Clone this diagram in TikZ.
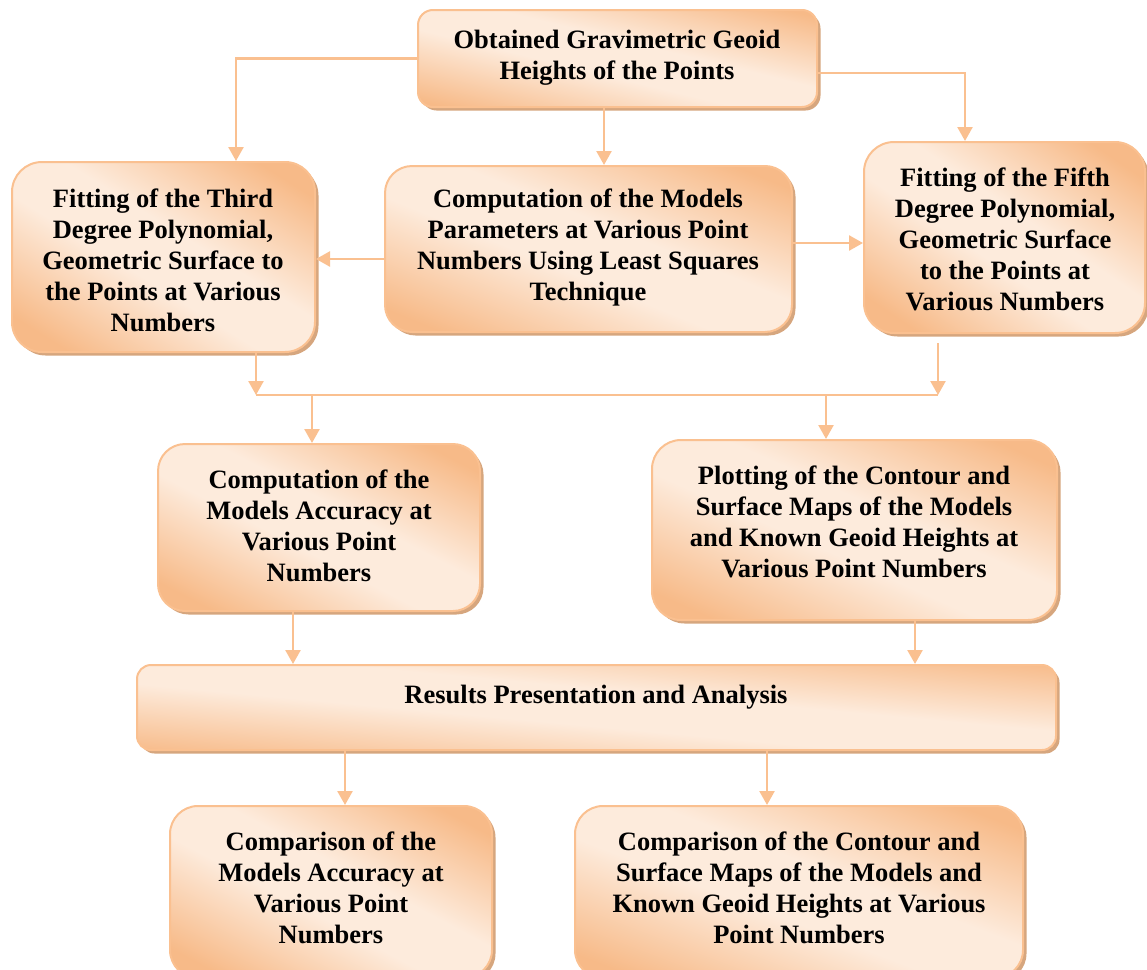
\documentclass[tikz,border=0pt]{standalone}
\usepackage{fontspec}
\setmainfont{Liberation Serif}
\usetikzlibrary{arrows.meta,shadows}
\definecolor{bord}{RGB}{250,192,144}
\definecolor{orD}{RGB}{247,186,136}
\definecolor{orL}{RGB}{253,235,220}
\definecolor{shad}{RGB}{214,166,126}
\pgfdeclareverticalshading{boxshade}{100bp}{color(0bp)=(orD); color(22bp)=(orD); color(44bp)=(orL); color(56bp)=(orL); color(78bp)=(orD); color(100bp)=(orD)}
\tikzset{
  box/.style 2 args={draw=bord, line width=2pt, rounded corners=#1,
    shading=boxshade, shading angle=#2,
    drop shadow={shadow xshift=3.5pt, shadow yshift=-3.5pt, fill=shad, opacity=1},
    inner sep=0pt},
  lbl/.style={align=center, font=\bfseries\fontsize{26.5}{31}\selectfont, inner sep=0pt},
  conn/.style={draw=bord, line width=2.5pt, -{Triangle[width=15pt,length=14pt]}},
  plain/.style={draw=bord, line width=2.5pt}
}
\begin{document}
\begin{tikzpicture}[x=1pt,y=1pt]
\useasboundingbox (0,0) rectangle (1147,-969);
% boxes
\node[box={15}{-13.7}, minimum width=399, minimum height=97] (b1) at (617.5,-58.5) {};
\node[box={30}{-32.1}, minimum width=303, minimum height=190] (b2) at (163.5,-257) {};
\node[box={27}{-22.2}, minimum width=407, minimum height=166] (b3) at (588.5,-249) {};
\node[box={30}{-34.2}, minimum width=281, minimum height=191] (b4) at (1004.5,-237.5) {};
\node[box={27}{-27.4}, minimum width=322, minimum height=167] (b5) at (319,-527.5) {};
\node[box={29}{-24.0}, minimum width=405, minimum height=180] (b6) at (854.5,-530) {};
\node[box={14}{-5.3}, minimum width=919, minimum height=85] (b7) at (596.5,-707.5) {};
\node[box={28}{-28.1}, minimum width=322, minimum height=172] (b8) at (331,-892) {};
\node[box={28}{-21.0}, minimum width=448, minimum height=172] (b9) at (799,-892) {};
% texts
\node[lbl] (t1) at (617,-57.5) {Obtained Gravimetric Geoid\\Heights of the Points};
\node[lbl] (t2) at (163,-260) {Fitting of the Third\\Degree Polynomial,\\Geometric Surface to\\the Points at Various\\Numbers};
\node[lbl] (t3) at (588,-247) {Computation of the Models\\Parameters at Various Point\\Numbers Using Least Squares\\Technique};
\node[lbl] (t4) at (1005,-239) {Fitting of the Fifth\\Degree Polynomial,\\Geometric Surface\\to the Points at\\Various Numbers};
\node[lbl] (t5) at (319,-526) {Computation of the\\Models Accuracy at\\Various Point\\Numbers};
\node[lbl] (t6) at (854,-522) {Plotting of the Contour and\\Surface Maps of the Models\\and Known Geoid Heights at\\Various Point Numbers};
\node[lbl] (t7) at (596,-697) {Results Presentation and Analysis};
\node[lbl] (t8) at (331,-888) {Comparison of the\\Models Accuracy at\\Various Point\\Numbers};
\node[lbl] (t9) at (799,-888) {Comparison of the Contour and\\Surface Maps of the Models and\\Known Geoid Heights at Various\\Point Numbers};
% junction points
\coordinate (jl) at (256,-395);
\coordinate (jr) at (938,-395);
\coordinate (jrs) at (938,-343);
% connectors
\draw[conn] (b1.west) -| ([xshift=72.5pt]b2.north);
\draw[conn] ([yshift=-14.5pt]b1.east) -| ([xshift=-39.5pt]b4.north);
\draw[conn] ([xshift=-13.5pt]b1.south) -- ([xshift=-13.5pt]b1.south |- b3.north);
\draw[conn] ([yshift=-10pt]b3.west) -- ([yshift=-10pt]b3.west -| b2.east);
\draw[conn] ([yshift=6pt]b3.east) -- ([yshift=6pt]b3.east -| b4.west);
\draw[conn] (b2.south -| jl) -- (jl);
\draw[conn] (jrs) -- (jr);
\draw[plain] (jl) -- (jr);
\draw[conn] (312,-395) -- (312,-395 |- b5.north);
\draw[conn] (826,-395) -- (826,-395 |- b6.north);
\draw[conn] ([xshift=-26pt]b5.south) -- ([xshift=-26pt]b5.south |- b7.north);
\draw[conn] ([xshift=60.5pt]b6.south) -- ([xshift=60.5pt]b6.south |- b7.north);
\draw[conn] ([xshift=-251.5pt]b7.south) -- ([xshift=-251.5pt]b7.south |- b8.north);
\draw[conn] ([xshift=170.5pt]b7.south) -- ([xshift=170.5pt]b7.south |- b9.north);
\end{tikzpicture}
\end{document}
